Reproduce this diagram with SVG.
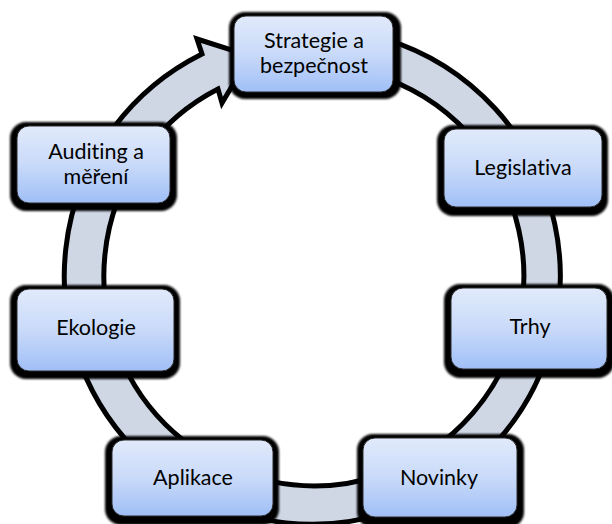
<svg xmlns="http://www.w3.org/2000/svg" width="612" height="524" viewBox="0 0 612 524">
<defs>
<linearGradient id="boxfill" x1="0" y1="0" x2="0" y2="1">
<stop offset="0" stop-color="#e1eafb"/>
<stop offset="0.5" stop-color="#c9daf9"/>
<stop offset="1" stop-color="#a0bff7"/>
</linearGradient>
<filter id="soft" x="-10%" y="-10%" width="120%" height="120%">
<feGaussianBlur stdDeviation="0.8"/>
</filter>
</defs>
<style>
.shadow{fill:#000;filter:url(#soft)}
.box{fill:url(#boxfill);stroke:#2b2b2b;stroke-width:1}
.lbl{font-family:Lato,"Liberation Sans",sans-serif;font-size:21.5px;fill:#000;text-anchor:middle;font-variant-ligatures:none}
.ring{fill:#cfd7e5;stroke:#000;stroke-width:5;stroke-linejoin:miter}
</style>
<rect width="612" height="524" fill="#fff"/>
<g id="connectors">
<path class="ring" d="M 269.93 31.77 A 248 248 0 1 1 202 54 L 197 39 L 249.9 55.9 L 222 103 L 218 89 A 210 210 0 1 0 276.53 69.19 Z"/>
</g>
<g id="node-strategie">
<rect class="shadow" x="229" y="12" width="172" height="87" rx="16"/>
<rect class="box" x="234" y="16" width="159" height="76" rx="12"/>
<text class="lbl" x="314" y="48">Strategie a</text>
<text class="lbl" x="314" y="73">bezpečnost</text>
</g>
<g id="node-legislativa">
<rect class="shadow" x="437" y="125" width="171" height="91" rx="16"/>
<rect class="box" x="444" y="129" width="158" height="78" rx="12"/>
<text class="lbl" x="523" y="175">Legislativa</text>
</g>
<g id="node-trhy">
<rect class="shadow" x="444" y="284" width="170" height="94" rx="16"/>
<rect class="box" x="451" y="288" width="156" height="81" rx="12"/>
<text class="lbl" x="530" y="334">Trhy</text>
</g>
<g id="node-novinky">
<rect class="shadow" x="357" y="434" width="167" height="94" rx="16"/>
<rect class="box" x="363" y="438" width="154" height="79" rx="12"/>
<text class="lbl" x="439" y="485">Novinky</text>
</g>
<g id="node-aplikace">
<rect class="shadow" x="105" y="436" width="174" height="89" rx="16"/>
<rect class="box" x="112" y="440" width="161" height="76" rx="12"/>
<text class="lbl" x="193" y="485">Aplikace</text>
</g>
<g id="node-ekologie">
<rect class="shadow" x="10" y="285" width="170" height="94" rx="16"/>
<rect class="box" x="17" y="289" width="157" height="82" rx="12"/>
<text class="lbl" x="96" y="335">Ekologie</text>
</g>
<g id="node-auditing">
<rect class="shadow" x="10" y="122" width="167" height="89" rx="16"/>
<rect class="box" x="17" y="126" width="153" height="77" rx="12"/>
<text class="lbl" x="96" y="159">Auditing a</text>
<text class="lbl" x="96" y="184">měření</text>
</g>
</svg>
